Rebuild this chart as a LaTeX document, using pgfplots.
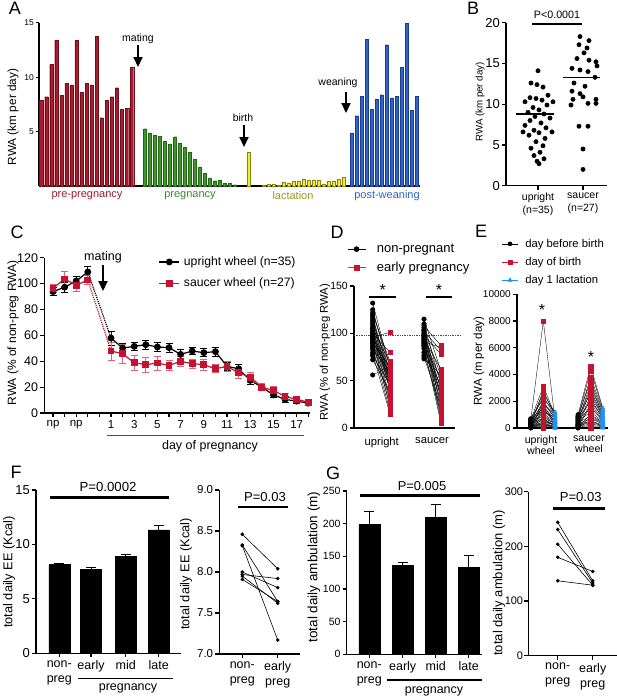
\documentclass[border=0pt]{standalone}
\usepackage{fontspec}
\setmainfont{Liberation Sans}
\usepackage{pgfplots}
\usepackage{pgfplotstable}
\pgfplotsset{compat=1.18}
\usetikzlibrary{arrows.meta}

\definecolor{cRed}{RGB}{196,18,48}
\definecolor{aRed}{RGB}{168,28,48}
\definecolor{aRedD}{RGB}{110,15,25}
\definecolor{aGreen}{RGB}{62,150,40}
\definecolor{aGreenD}{RGB}{35,100,25}
\definecolor{aYel}{RGB}{240,236,50}
\definecolor{aYelD}{RGB}{140,130,20}
\definecolor{aBlue}{RGB}{50,100,200}
\definecolor{aBlueD}{RGB}{25,60,150}
\definecolor{lRed}{RGB}{150,30,45}
\definecolor{lGreen}{RGB}{50,140,40}
\definecolor{lYel}{RGB}{160,150,30}
\definecolor{lBlue}{RGB}{50,100,190}
\definecolor{eBlue}{RGB}{30,144,255}

\newcommand{\fs}[2]{\fontsize{#1}{#2}\selectfont}

\pgfplotsset{
  panel/.style={scale only axis, anchor=south west,
    axis x line*=bottom, axis y line*=left,
    axis line style={line width=1.2pt},
    tick style={line width=1.1pt, black}, tick align=outside,
    major tick length=4pt, clip=false, enlargelimits=false,
    scaled ticks=false,
    /pgf/number format/assume math mode=true,
    /pgf/number format/1000 sep={},
    tick label style={font=\fs{12}{14}},
    yticklabel style={inner xsep=2pt},
    legend cell align=left},
}

% panel B
\pgfplotstableread{
v dx
14.1 0
12.6 -7
12.4 -1
12.1 5
11.1 10
10.8 -8
10.7 -2
10.5 4
10.3 15
10.3 -13
9.9 9
9.6 -5
9.3 1
9.0 -10
8.8 6
8.5 -3
8.3 12
8.0 -8
7.7 3
7.4 -13
7.1 8
6.8 -4
6.6 14
6.6 -15
6.5 1
6.2 -9
5.8 7
5.4 -2
4.9 5
4.6 -7
4.1 2
3.7 -4
3.3 6
3.0 -1
2.7 1
}\Bup
\pgfplotstableread{
v dx
18.3 -3
17.8 6
17.3 -4
16.9 4
16.3 1
15.6 -6
15.4 6
15.2 13
14.7 14
14.4 -11
14.2 -3
14.0 5
13.3 12
12.6 -9
12.2 2
11.6 -11
11.3 -3
10.9 0
10.6 -10
10.6 13
10.1 5
10.1 13
9.9 -12
7.3 -4
7.3 5
4.5 0
2.0 0
}\Bsa

% panel D
\pgfplotstableread{
np ep
132 63
125 58
122 66
120 70
118 50
116 55
114 48
112 60
110 45
108 52
106 68
105 42
104 40
102 55
101 32
100 80
99 50
98 47
97 28
96 101
95 62
94 44
93 22
92 57
90 65
89 25
88 53
86 43
85 18
83 60
80 34
78 15
76 46
72 39
56 65
}\Dup
\pgfplotstableread{
np ep
115 60
110 45
108 87
106 30
104 55
103 20
102 82
100 40
99 12
98 78
97 35
96 50
95 25
94 62
93 8
92 42
91 85
90 18
89 33
88 52
87 28
86 5
84 38
80 15
77 46
75 22
73 56
}\Dsa

% panel E
\pgfplotstableread{
a b c
700 2200 1200
650 1500 400
600 3100 1000
580 1200 800
550 8000 600
520 2600 1100
500 900 300
480 1800 950
450 700 200
430 2400 850
400 1400 500
380 600 150
350 2000 700
330 500 250
300 1100 450
280 2800 900
260 400 100
240 1600 650
220 300 80
200 1000 350
180 250 50
160 1300 550
150 800 300
130 200 120
120 1900 750
100 150 40
90 650 180
80 100 30
60 450 220
50 1700 420
40 350 60
30 80 20
20 50 10
10 20 0
0 0 0
}\Eup
\pgfplotstableread{
a b c
1000 4600 1500
900 3500 1200
850 4300 1400
800 2600 900
750 3800 1300
700 2000 800
650 3000 1100
600 1500 600
550 3300 1000
500 1200 500
450 2800 950
400 900 400
350 2400 850
300 700 300
280 2200 700
250 500 250
200 1800 650
180 400 200
150 1600 550
120 300 150
100 1000 450
80 200 100
60 800 350
40 100 50
20 600 80
10 50 20
0 0 0
}\Esa

% panel F right, G right
\pgfplotstableread{
np ep
8.46 8.04
8.33 7.64
8.32 7.17
8.00 7.81
7.97 7.92
7.95 7.62
7.91 7.64
}\Fr
\pgfplotstableread{
np ep
244 137
231 133
204 129
180 154
137 129
}\Gr

\begin{document}
\begin{tikzpicture}
\useasboundingbox (0pt,0pt) rectangle (617pt,-699pt);

% ---------- A ----------
\begin{axis}[panel, at={(39pt,-186pt)}, width=381pt, height=163.3pt,
  xmin=39, xmax=420, ymin=0, ymax=15, ytick={5,10,15}, xtick=\empty,
  yticklabel style={font=\fs{8.5}{10}}, major tick length=3pt]
\addplot[ybar, bar width=3.3pt, bar shift=0pt, fill=aRed, draw=aRedD, line width=0.3pt] coordinates {
(41.3,7.87) (46.4,8.2) (51.4,11.17) (56.4,13.4) (61.5,8.3) (66.5,9.43) (71.5,9.3)
(76.6,13.4) (81.6,8.6) (86.7,9.43) (91.7,9.3) (96.7,13.74) (101.8,6.27) (106.8,7.87)
(111.9,8.2) (116.9,9.03) (121.9,7.07) (127.0,7.13) (132.0,10.93)};
\addplot[ybar, bar width=3pt, bar shift=0pt, fill=aGreen, draw=aGreenD, line width=0.3pt] coordinates {
(145,5.26) (150,4.87) (155,4.68) (160,4.56) (165,4.13) (170,3.86) (175,4.53) (180,3.92)
(185,3.55) (190,3.12) (195,2.48) (200,1.74) (205,1.19) (210,0.73) (215,0.49) (220,0.52)
(225,0.24) (230,0.24) (235,0.12)};
\addplot[ybar, bar width=3pt, bar shift=0pt, fill=aYel, draw=aYelD, line width=0.4pt] coordinates {
(248.3,3.06)
(263.3,0.1) (268.3,0.18) (273.3,0.18) (278.3,0.06) (283.3,0.34) (288.3,0.3) (293.3,0.4)
(298.3,0.46) (303.3,0.58) (308.3,0.52) (313.3,0.52) (318.3,0.49) (323.3,0.21) (328.3,0.46)
(333.3,0.43) (338.3,0.64) (343.3,0.77)};
\addplot[ybar, bar width=3pt, bar shift=0pt, fill=aBlue, draw=aBlueD, line width=0.3pt] coordinates {
(351.7,4.87) (356.7,6.46) (361.7,8.26) (366.7,13.47) (371.7,7.04) (376.7,7.99) (381.7,8.39)
(386.7,12.98) (391.7,8.05) (396.7,8.23) (401.7,10.9) (406.7,14.97) (411.7,6.95) (416.7,8.26)};
\end{axis}

% ---------- B ----------
\begin{axis}[panel, at={(506pt,-185.7pt)}, width=101pt, height=163pt,
  xmin=0, xmax=101, ymin=0, ymax=20, ytick={0,5,10,15,20},
  xtick={32,77}, xticklabels={{upright\\(n=35)},{saucer\\(n=27)}},
  xticklabel style={align=center, font=\fs{10.5}{12.5}},
  yticklabel style={font=\fs{13}{15}}]
\addplot[only marks, mark=*, mark size=2.2pt, black] table[x expr=32+\thisrow{dx}, y=v] {\Bup};
\addplot[only marks, mark=*, mark size=2.2pt, black] table[x expr=77+\thisrow{dx}, y=v] {\Bsa};
\addplot[black, line width=1.2pt] coordinates {(10,8.8) (48,8.8)};
\addplot[black, line width=1.2pt] coordinates {(57,13.3) (94,13.3)};
\end{axis}

% ---------- C ----------
\begin{axis}[panel, at={(44.3pt,-413pt)}, width=265.7pt, height=155.3pt,
  xmin=-4.75, xmax=18.15, ymin=0, ymax=120, ytick={0,20,...,120},
  xtick={-4,...,18},
  xticklabels={np,{},np,{},{},1,{},3,{},5,{},7,{},9,{},11,{},13,{},15,{},17,{}},
  xticklabel style={font=\fs{11.5}{13}},
  yticklabel style={font=\fs{12.5}{14}},
  legend style={at={(0.43,1.02)}, anchor=north west, draw=none, fill=none,
    font=\fs{12.2}{14}, row sep=7pt, column sep=2pt, inner sep=0pt},
  legend image code/.code={\draw[mark repeat=2,mark phase=2] plot coordinates {(0pt,0pt) (10pt,0pt) (20pt,0pt)};}]
\addlegendimage{black, line width=1.2pt, mark=*, mark size=2.8pt}
\addlegendentry{upright wheel (n=35)}
\addlegendimage{cRed, line width=1.2pt, mark=square*, mark size=2.8pt}
\addlegendentry{saucer wheel (n=27)}
\addplot[forget plot, black, densely dotted, line width=1.2pt] coordinates {(-1,109) (1,57.9)};
\addplot[forget plot, cRed, densely dotted, line width=1.2pt] coordinates {(-1,102.8) (1,47.9)};
\pgfplotsset{cblk/.style={forget plot, black, line width=1.2pt, mark=*, mark size=2.8pt,
  error bars/.cd, y dir=both, y explicit, error bar style={line width=0.8pt, black},
  error mark options={rotate=90, mark size=3.5pt, line width=0.8pt, black}},
  cred/.style={forget plot, cRed, line width=1.2pt, mark=square*, mark size=2.8pt,
  error bars/.cd, y dir=both, y explicit, error bar style={line width=0.8pt, cRed!65},
  error mark options={rotate=90, mark size=3.5pt, line width=0.8pt, cRed!65}}}
\addplot[cblk] coordinates {(-4,93.8) +- (0,3) (-3,97.2) +- (0,4) (-2,102) +- (0,3.5) (-1,109) +- (0,4.5)};
\addplot[cblk] coordinates {(1,57.9) +- (0,5.5) (2,50.2) +- (0,3.5) (3,51.5) +- (0,3) (4,52.8) +- (0,3.5)
 (5,51) +- (0,3.5) (6,50.5) +- (0,3.5) (7,45.3) +- (0,3.5) (8,47.9) +- (0,3) (9,46.6) +- (0,3)
 (10,47.4) +- (0,3.5) (11,36) +- (0,3) (12,34.2) +- (0,3) (13,25.2) +- (0,3) (14,20) +- (0,2)
 (15,14) +- (0,2) (16,10.5) +- (0,2) (17,9.2) +- (0,2) (18,7.6) +- (0,1.5)};
\addplot[cred] coordinates {(-4,96.4) +- (0,3) (-3,103.6) +- (0,5.5) (-2,98.7) +- (0,4.5) (-1,102.8) +- (0,3.5)};
\addplot[cred] coordinates {(1,47.9) +- (0,7) (2,45.8) +- (0,7.5) (3,38.8) +- (0,6) (4,37.3) +- (0,6)
 (5,38.6) +- (0,5.5) (6,36.8) +- (0,4) (7,39.9) +- (0,4) (8,38.1) +- (0,3.5) (9,37.3) +- (0,4)
 (10,34.2) +- (0,3) (11,36) +- (0,3.5) (12,31.1) +- (0,4.5) (13,27.7) +- (0,4) (14,20) +- (0,2.5)
 (15,17.4) +- (0,3) (16,12.8) +- (0,2.5) (17,10.5) +- (0,2) (18,8.4) +- (0,2)};
\end{axis}

% ---------- D ----------
\begin{axis}[panel, at={(354pt,-428pt)}, width=101pt, height=142pt,
  xmin=0, xmax=101, ymin=0, ymax=150, ytick={0,50,100,150},
  xtick={27.7,78}, xticklabels={upright,saucer}, xtick style={draw=none},
  xticklabel style={font=\fs{11.2}{13}, yshift=-2pt},
  yticklabel style={font=\fs{10.5}{12}},
  legend style={at={(-0.07,1.31)}, anchor=north west, draw=none, fill=none,
    font=\fs{13}{15}, row sep=4pt, column sep=9pt, inner sep=0pt},
  legend image code/.code={\draw[mark repeat=2,mark phase=2] plot coordinates {(0pt,0pt) (9pt,0pt) (18pt,0pt)};}]
\addlegendimage{black, line width=0.8pt, mark=*, mark size=2.4pt}
\addlegendentry{non-pregnant}
\addlegendimage{cRed!55!gray, line width=0.8pt, mark=square*, mark size=2.4pt, mark options={cRed}}
\addlegendentry{early pregnancy}
\addplot[forget plot, densely dotted, black!70, line width=1.4pt] coordinates {(0,98) (106,98)};
\addplot[forget plot, black, line width=0.4pt, quiver={u=17.3, v=\thisrow{ep}-\thisrow{np}}] table[x expr=18.7, y=np] {\Dup};
\addplot[forget plot, black, line width=0.4pt, quiver={u=17, v=\thisrow{ep}-\thisrow{np}}] table[x expr=70, y=np] {\Dsa};
\addplot[forget plot, only marks, mark=*, mark size=2.3pt, black] table[x expr=18.7, y=np] {\Dup};
\addplot[forget plot, only marks, mark=*, mark size=2.3pt, black] table[x expr=70, y=np] {\Dsa};
\addplot[forget plot, only marks, mark=square*, mark size=2.3pt, cRed] table[x expr=36, y=ep] {\Dup};
\addplot[forget plot, only marks, mark=square*, mark size=2.3pt, cRed] table[x expr=87, y=ep] {\Dsa};
\end{axis}

% ---------- E ----------
\begin{axis}[panel, at={(517pt,-428pt)}, width=91pt, height=133.7pt,
  xmin=0, xmax=91, ymin=0, ymax=10000, ytick={0,2000,...,10000},
  xtick={24,72}, xticklabels={{upright\\wheel},{saucer\\wheel}}, xtick style={draw=none},
  xticklabel style={align=center, font=\fs{10.6}{11.5}},
  yticklabel style={font=\fs{10}{12}},
  legend style={at={(-0.17,1.43)}, anchor=north west, draw=none, fill=none,
    font=\fs{11.3}{13}, row sep=4.5pt, column sep=5pt, inner sep=0pt},
  legend image code/.code={\draw[mark repeat=2,mark phase=2] plot coordinates {(0pt,0pt) (8pt,0pt) (16pt,0pt)};}]
\addlegendimage{black, line width=0.6pt, mark=*, mark size=2pt}
\addlegendentry{day before birth}
\addlegendimage{cRed, line width=0.6pt, mark=square*, mark size=2pt}
\addlegendentry{day of birth}
\addlegendimage{eBlue, line width=0.6pt, mark=triangle*, mark size=2.2pt}
\addlegendentry{day 1 lactation}
\addplot[forget plot, black, line width=0.35pt, quiver={u=12.6, v=\thisrow{b}-\thisrow{a}}] table[x expr=13.7, y=a] {\Eup};
\addplot[forget plot, black, line width=0.35pt, quiver={u=11.7, v=\thisrow{c}-\thisrow{b}}] table[x expr=26.3, y=b] {\Eup};
\addplot[forget plot, black, line width=0.35pt, quiver={u=12.7, v=\thisrow{b}-\thisrow{a}}] table[x expr=61, y=a] {\Esa};
\addplot[forget plot, black, line width=0.35pt, quiver={u=12, v=\thisrow{c}-\thisrow{b}}] table[x expr=73.7, y=b] {\Esa};
\addplot[forget plot, only marks, mark=*, mark size=2.2pt, black] table[x expr=13.7, y=a] {\Eup};
\addplot[forget plot, only marks, mark=*, mark size=2.2pt, black] table[x expr=61, y=a] {\Esa};
\addplot[forget plot, only marks, mark=triangle*, mark size=2.4pt, eBlue] table[x expr=38, y=c] {\Eup};
\addplot[forget plot, only marks, mark=triangle*, mark size=2.4pt, eBlue] table[x expr=85.7, y=c] {\Esa};
\addplot[forget plot, only marks, mark=square*, mark size=2.2pt, cRed] table[x expr=26.3, y=b] {\Eup};
\addplot[forget plot, only marks, mark=square*, mark size=2.2pt, cRed] table[x expr=73.7, y=b] {\Esa};
\end{axis}

% ---------- F left ----------
\begin{axis}[panel, at={(36pt,-653.3pt)}, width=145pt, height=163.3pt,
  xmin=0, xmax=145, ymin=0, ymax=15, ytick={0,5,10,15},
  xtick={23.3,55,89.7,122.7}, xticklabels={{non-\\preg},early,mid,late},
  xticklabel style={align=center, anchor=north, font=\fs{12.5}{15}},
  yticklabel style={font=\fs{13}{15}}]
\addplot[ybar, bar width=21pt, bar shift=0pt, fill=black, draw=black,
  error bars/.cd, y dir=plus, y explicit, error bar style={line width=1pt},
  error mark options={rotate=90, mark size=5pt, line width=1pt}]
  coordinates {(23.3,8.17) +- (0,0.1) (55,7.71) +- (0,0.14) (89.7,8.88) +- (0,0.22) (122.7,11.33) +- (0,0.45)};
\end{axis}

% ---------- F right ----------
\begin{axis}[panel, at={(219.3pt,-654pt)}, width=80.7pt, height=164pt,
  xmin=0, xmax=80.7, ymin=7, ymax=9, ytick={7,7.5,8,8.5,9},
  /pgf/number format/fixed, /pgf/number format/fixed zerofill, /pgf/number format/precision=1,
  xtick={23,58.4}, xticklabels={{non-\\preg},{early\\preg}},
  xticklabel style={align=center, anchor=north, font=\fs{12.5}{15}},
  yticklabel style={font=\fs{11.5}{14}}]
\addplot[black, line width=0.6pt, quiver={u=35.4, v=\thisrow{ep}-\thisrow{np}}] table[x expr=23, y=np] {\Fr};
\addplot[only marks, mark=*, mark size=1.6pt, black] table[x expr=23, y=np] {\Fr};
\addplot[only marks, mark=*, mark size=1.6pt, black] table[x expr=58.4, y=ep] {\Fr};
\end{axis}

% ---------- G left ----------
\begin{axis}[panel, at={(346.7pt,-654.3pt)}, width=135pt, height=163.3pt,
  xmin=0, xmax=135, ymin=0, ymax=250, ytick={0,50,...,250},
  xtick={22.6,56,89,122}, xticklabels={{non-\\preg},early,mid,late},
  xticklabel style={align=center, anchor=north, font=\fs{12.5}{15}},
  yticklabel style={font=\fs{10.5}{13}}]
\addplot[ybar, bar width=21pt, bar shift=0pt, fill=black, draw=black,
  error bars/.cd, y dir=plus, y explicit, error bar style={line width=1pt},
  error mark options={rotate=90, mark size=5pt, line width=1pt}]
  coordinates {(22.6,198.5) +- (0,20.4) (56,136.2) +- (0,5.1) (89,210.2) +- (0,18.8) (122,132.7) +- (0,18.8)};
\end{axis}

% ---------- G right ----------
\begin{axis}[panel, at={(528.3pt,-655.7pt)}, width=88.7pt, height=164pt,
  xmin=0, xmax=88.7, ymin=0, ymax=300, ytick={0,100,200,300},
  xtick={29.4,64.4}, xticklabels={{non-\\preg},{early\\preg}},
  xticklabel style={align=center, anchor=north, font=\fs{12.5}{15}},
  yticklabel style={font=\fs{11}{14}, inner xsep=1pt}]
\addplot[black, line width=0.6pt, quiver={u=35, v=\thisrow{ep}-\thisrow{np}}] table[x expr=29.4, y=np] {\Gr};
\addplot[only marks, mark=*, mark size=1.6pt, black] table[x expr=29.4, y=np] {\Gr};
\addplot[only marks, mark=*, mark size=1.6pt, black] table[x expr=64.4, y=ep] {\Gr};
\end{axis}

% ---------- annotations ----------
\begin{scope}[x=1pt, y=-1pt]
\tikzset{arr/.style={line width=2.2pt, -{Triangle[width=9pt,length=10pt]}}}
% panel letters
\node[font=\fs{18}{20}] at (15,8) {A};
\node[font=\fs{18}{20}] at (473,8) {B};
\node[font=\fs{18}{20}] at (17,232) {C};
\node[font=\fs{18}{20}] at (337,232) {D};
\node[font=\fs{18}{20}] at (481,231) {E};
\node[font=\fs{18}{20}] at (16,472) {F};
\node[font=\fs{18}{20}] at (333,473) {G};
% A
\node[rotate=90, font=\fs{11.8}{13}] at (13,117) {RWA (km per day)};
\node[font=\fs{10.5}{12}] at (138,39) {mating};
\draw[arr] (138,45) -- (138,67);
\node[font=\fs{10.5}{12}] at (243,118) {birth};
\draw[arr] (244,125) -- (244,147);
\node[font=\fs{10.5}{12}] at (338,83) {weaning};
\draw[arr] (346,92) -- (346,113);
\node[font=\fs{11}{12}, text=lRed] at (87,196) {pre-pregnancy};
\node[font=\fs{11}{12}, text=lGreen] at (190,196) {pregnancy};
\node[font=\fs{11}{12}, text=lYel] at (293,196) {lactation};
\node[font=\fs{11}{12}, text=lBlue] at (387,196) {post-weaning};
% B
\node[rotate=90, font=\fs{9.7}{11}] at (480,102) {RWA  (km per day)};
\node[font=\fs{10.7}{12}] at (557,15) {P<0.0001};
\draw[line width=2.3pt] (532,24.3) -- (582,24.3);
% C
\node[rotate=90, font=\fs{12}{14}] at (13,333) {RWA  (\% of non-preg RWA)};
\node[font=\fs{12.5}{14}] at (103,257) {mating};
\draw[arr] (103,265) -- (103,291);
\draw[line width=0.8pt, black!70] (107,435) -- (304,435);
\node[font=\fs{12.5}{14}] at (210,446) {day of pregnancy};
% D
\node[rotate=90, font=\fs{11.3}{13}] at (325,352) {RWA  (\% of non-preg RWA)};
\node[font=\fs{16}{18}] at (382.7,290) {*};
\draw[line width=2.3pt] (369,296.7) -- (396,296.7);
\node[font=\fs{16}{18}] at (439,290) {*};
\draw[line width=2.3pt] (426,296.7) -- (452,296.7);
% E
\node[rotate=90, font=\fs{11.5}{13}] at (479,361) {RWA (m per day)};
\node[font=\fs{16}{18}] at (542,310) {*};
\node[font=\fs{16}{18}] at (591,357) {*};
% F
\node[rotate=90, font=\fs{12.8}{14}] at (9,572) {total daily EE (Kcal)};
\node[font=\fs{13.2}{15}] at (108,486.7) {P=0.0002};
\draw[line width=2.5pt] (50,497.7) -- (169,497.7);
\draw[line width=1.5pt] (78,678.7) -- (173,678.7);
\node[font=\fs{12.5}{15}] at (128,688) {pregnancy};
\node[rotate=90, font=\fs{12.8}{14}] at (186,574) {total daily EE (Kcal)};
\node[font=\fs{13}{15}] at (265,496.7) {P=0.03};
\draw[line width=2.5pt] (238,507) -- (288,507);
% G
\node[rotate=90, font=\fs{13.5}{15}] at (314,567) {total daily ambulation (m)};
\node[font=\fs{12.9}{15}] at (422,485.7) {P=0.005};
\draw[line width=2.5pt] (360,495.3) -- (480,495.3);
\draw[line width=1.5pt] (386.7,680) -- (481.7,680);
\node[font=\fs{12.5}{15}] at (434,691) {pregnancy};
\node[rotate=90, font=\fs{13}{15}] at (499,583) {total daily ambulation (m)};
\node[font=\fs{13}{15}] at (580.7,497.3) {P=0.03};
\draw[line width=2.5pt] (553,508.3) -- (605,508.3);
\end{scope}
\end{tikzpicture}
\end{document}
